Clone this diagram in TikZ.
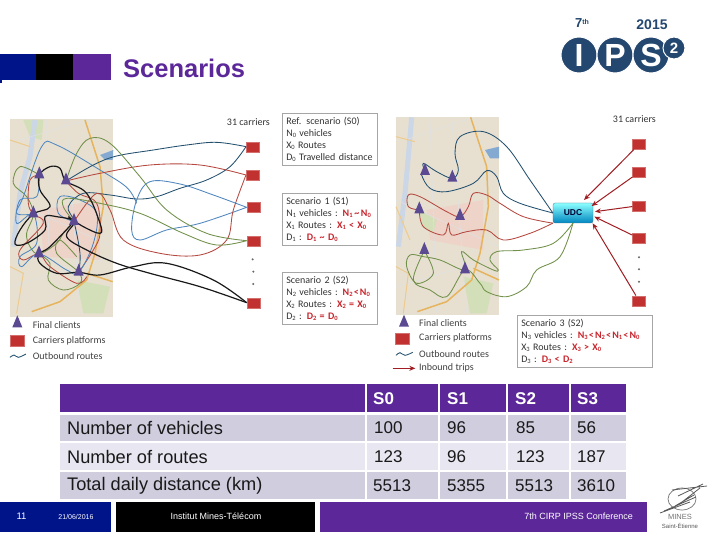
\documentclass[tikz,border=0pt]{standalone}
\usepackage{fontspec}
\setmainfont{Liberation Sans}
\newfontfamily\carl{Carlito}
\usetikzlibrary{shapes.geometric,arrows.meta}
\definecolor{ppl}{HTML}{5C2799}
\definecolor{dblue}{HTML}{00148A}
\definecolor{rowa}{HTML}{CFCDDE}
\definecolor{rowb}{HTML}{E8E7F1}
\definecolor{hdr}{HTML}{5C2799}
\definecolor{navy}{HTML}{23506F}
\definecolor{steel}{HTML}{4F86BE}
\definecolor{rroute}{HTML}{B5483F}
\definecolor{groute}{HTML}{71904A}
\definecolor{carr}{HTML}{C0312F}
\definecolor{tri}{HTML}{5B4A92}
\definecolor{mapbg}{HTML}{E7E0D1}
\definecolor{mappink}{HTML}{EDD3C8}
\definecolor{mapgreen}{HTML}{D3DFB8}
\definecolor{mapwater}{HTML}{CBD6E6}
\definecolor{maproad}{HTML}{E6B45C}
\definecolor{scr}{HTML}{C8252C}
\definecolor{logob}{HTML}{24476F}
\newcommand{\sbs}[1]{\raisebox{-1.4pt}{\fontsize{6.5}{7}\selectfont #1}}
\newcommand{\rd}[1]{\textcolor{scr}{\bfseries #1}}
\newcommand{\ltsp}{\hspace{.12em}<\hspace{.12em}}
\tikzset{
 cell/.style={anchor=west,inner sep=0pt,font=\fontsize{17}{20}\selectfont,text=black!90},
 lcell/.style={anchor=west,inner sep=0pt,font=\fontsize{18.2}{20}\selectfont,text=black!90},
 hcell/.style={anchor=west,inner sep=0pt,font=\fontsize{17}{20}\selectfont\bfseries,text=white},
 foot/.style={inner sep=0pt,text=white},
 carrier/.style={rectangle,fill=carr,minimum width=13pt,minimum height=10pt,inner sep=0pt,draw=carr!70!white,line width=.3pt},
 client/.style={isosceles triangle,shape border rotate=90,isosceles triangle apex angle=46,isosceles triangle stretches,minimum height=12pt,minimum width=10pt,fill=tri,inner sep=0pt},
 scn/.style={anchor=north west,draw=black!35,line width=.6pt,align=left,inner xsep=4pt,inner ysep=2pt,font=\carl\fontsize{10}{12}\selectfont,text=black!80},
 lbl/.style={anchor=west,inner sep=0pt,font=\carl\fontsize{10}{12}\selectfont,text=black!75},
 road/.style={line width=1.5pt,maproad},
 minor/.style={line width=.6pt,white!88!black},
 rt/.style={line width=.85pt,smooth,tension=.6},
 blk/.style={line width=1.2pt,black!90},
 inb/.style={line width=1pt,color=scr!80!black,-{Stealth[length=6pt,width=5pt]}},
 dotm/.style={circle,fill=black!60,minimum size=2.2pt,inner sep=0pt},
 lcirc/.style={circle,fill=logob,draw=white,line width=1pt,minimum size=36pt,inner sep=0pt,text=white,font=\fontsize{32}{32}\selectfont\bfseries},
}
\begin{document}
\begin{tikzpicture}[x=1pt,y=-1pt]
\useasboundingbox (0,0) rectangle (720,540);
\fill[white] (0,0) rectangle (720,540);
% header bars
\fill[dblue] (0,54) rectangle (36,80);
\fill[black] (36,54) rectangle (73,80);
\fill[ppl] (73,54) rectangle (111,80);
\fill[dblue] (0,80) rectangle (2,83);
\node[anchor=base west,inner sep=0pt,text=ppl,font=\fontsize{25.5}{27}\selectfont\bfseries] (title) at (123,78) {Scenarios};
% IPS logo
\node[lcirc] (lI) at (579,55) {I};
\node[lcirc] (lP) at (615,55) {P};
\node[lcirc] (lS) at (651,55) {S};
\node[circle,fill=logob,draw=white,line width=1pt,minimum size=22pt,inner sep=0pt,text=white,font=\fontsize{15}{15}\selectfont\bfseries] (l2) at (674,48) {2};
\node[inner sep=0pt,text=logob,font=\fontsize{13}{13}\selectfont\bfseries] (l7) at (582,23) {7\raisebox{3pt}{\fontsize{7}{7}\selectfont th}};
\node[inner sep=0pt,text=logob,font=\fontsize{14}{14}\selectfont\bfseries] (l15) at (652,25) {2015};
% LEFT PANEL
\begin{scope}[shift={(0,100)},scale=1/3]
\fill[mapbg] (30,57) rectangle (338,650);
\fill[mappink] (120,330) -- (300,300) -- (300,480) -- (130,470) -- cycle;
\fill[mapgreen] (230,540) -- (330,560) -- (310,640) -- (250,640) -- cycle;
\fill[mapgreen] (70,60) -- (130,60) -- (125,120) -- (90,110) -- cycle;
\fill[steel!70!white] (300,165) -- (340,150) -- (338,180) -- (315,180) -- cycle;
\draw[line width=5pt,mapwater] (105,60) -- (90,170) -- (60,280) -- (40,440);
\draw[minor] (30,300) -- (338,440) (60,120) -- (260,60) (140,60) -- (150,640) (30,560) -- (338,470) (200,60) -- (240,640);
\draw[road] (255,60) -- (300,200) -- (310,320) -- (285,460) -- (260,540) -- (180,605) -- (95,635);
\draw[road] (260,520) -- (338,545);
\draw[line width=1pt,maproad!70!white] (30,120) -- (90,140) (30,500) -- (70,520) -- (50,640);
% carriers
\node[carrier] (c1) at (758,140) {};
\node[carrier] (c2) at (758,225) {};
\node[carrier] (c3) at (760,322) {};
\node[carrier] (c4) at (760,422) {};
\node[carrier] (c5) at (760,608) {};
\coordinate (t1) at (118,225);
\coordinate (t2) at (198,243);
\coordinate (t3) at (100,342);
\coordinate (t4) at (222,365);
\coordinate (t5) at (117,462);
\coordinate (t6) at (236,517);
% inner loops
\draw[rt,groute] plot coordinates {(t1) (60,200) (40,250) (80,290) (t3) (80,400) (90,440) (t5) (170,430) (190,400) (t4)};
\draw[rt,groute] plot coordinates {(t5) (150,490) (145,540) (190,570) (240,550) (t6) (170,460) (180,420) (230,470)};
\draw[rt,rroute] plot coordinates {(t1) (90,240) (85,310) (t3) (130,370) (60,450) (70,480) (t5) (150,500) (230,550) (260,530)};
\draw[rt,rroute] plot coordinates {(t2) (235,280) (290,310) (300,400) (280,450) (t6)};
\draw[rt,steel] plot coordinates {(t1) (110,290) (60,300) (50,370) (t3) (110,430) (60,470) (65,500) (t5) (200,510) (t6) (280,430) (290,340) (240,300) (180,290) (175,340) (t4)};
\draw[rt,steel] plot coordinates {(t3) (50,340) (70,290) (125,140) (170,135) (300,210) (380,262) (410,310)};
% routes to carriers
\draw[rt,navy] plot coordinates {(t2) (280,195) (350,168) (460,150) (560,135) (650,127) (c1.west)};
\draw[rt,navy] plot coordinates {(c1.west) (690,200) (620,240) (540,265) (470,290) (410,297) (330,285) (250,280) (205,320) (t4) (240,460) (t6)};
\draw[rt,steel] plot coordinates {(c3.west) (640,285) (540,252) (450,245) (410,300) (395,390) (420,420) (500,390) (600,370) (c3.west)};
\draw[rt,rroute] plot coordinates {(t2) (300,220) (450,195) (600,195) (c2.west)};
\draw[rt,rroute] plot coordinates {(c2.west) (700,330) (680,420) (600,465) (480,460) (370,420) (330,330) (290,280) (t4)};
\draw[rt,groute] plot coordinates {(c4.west) (650,435) (550,400) (420,340) (300,310) (200,295) (190,320) (t4)};
\draw[rt,groute] plot coordinates {(c4.west) (620,400) (500,330) (420,230) (330,130) (270,115) (230,160) (t2)};
\draw[rt,blk] plot coordinates {(c5.west) (600,560) (450,520) (350,490) (260,450) (200,410) (t4) (170,350) (135,350) (135,390) (80,430) (45,432) (60,390) (t3) (150,320) (120,270) (t1) (150,200) (180,205) (t2) (260,280) (300,370) (300,400) (250,380) (205,350)};
\draw[rt,blk] plot coordinates {(c5.west) (640,540) (500,490) (400,500) (300,525) (t6) (170,520) (120,490) (t5) (150,440) (t4)};
% clients
\node[client] (k1) at (t1) {};
\node[client] (k2) at (t2) {};
\node[client] (k3) at (t3) {};
\node[client] (k4) at (t4) {};
\node[client] (k5) at (t5) {};
\node[client] (k6) at (t6) {};
\node[dotm] (d1) at (758,478) {};
\node[dotm] (d2) at (760,515) {};
\node[dotm] (d3) at (760,552) {};
\node[inner sep=0pt,font=\carl\fontsize{10}{11}\selectfont,text=black!80] (n31) at (745,65) {31 carriers};
% legend
\node[client] (lk) at (52,672) {};
\node[carrier,minimum width=14pt,minimum height=11pt] (lc) at (50,722) {};
\draw[rt,navy] plot coordinates {(30,772) (42,765) (55,772) (78,762)};
\node[lbl] (l1) at (98,675) {Final clients};
\node[lbl] (l2b) at (98,722) {Carriers platforms};
\node[lbl] (l3) at (98,768) {Outbound routes};
\end{scope}
% scenario boxes
\node[scn,text width=87pt,minimum height=52pt] (s0) at (282,113) {Ref. scenario (S0)\\N\sbs{0} vehicles\\X\sbs{0} Routes\\D\sbs{0} Travelled distance};
\node[scn,text width=87pt,minimum height=52pt] (s1) at (282,193) {Scenario 1 (S1)\\\mbox{N\sbs{1} vehicles : \rd{N\sbs{1}\,\textasciitilde\,N\sbs{0}}}\\X\sbs{1} Routes : \rd{X\sbs{1} < X\sbs{0}}\\D\sbs{1} : \rd{D\sbs{1} \textasciitilde{} D\sbs{0}}};
\node[scn,text width=87pt,minimum height=52pt] (s2) at (282,272) {Scenario 2 (S2)\\\mbox{N\sbs{2} vehicles : \rd{N\sbs{2}\ltsp N\sbs{0}}}\\X\sbs{2} Routes : \rd{X\sbs{2} = X\sbs{0}}\\D\sbs{2} : \rd{D\sbs{2} = D\sbs{0}}};
% RIGHT PANEL
\begin{scope}[shift={(380,100)},scale=1/3]
\fill[mapbg] (48,52) rectangle (357,644);
\fill[mappink] (140,330) -- (310,300) -- (310,450) -- (150,420) -- cycle;
\fill[mapgreen] (250,530) -- (340,550) -- (320,640) -- (270,640) -- cycle;
\fill[mapgreen] (120,330) -- (170,360) -- (160,400) -- (125,380) -- cycle;
\fill[steel!70!white] (315,150) -- (357,140) -- (357,175) -- (330,175) -- cycle;
\draw[line width=5pt,mapwater] (95,52) -- (85,170) -- (75,280) -- (55,440);
\draw[minor] (48,300) -- (357,440) (75,120) -- (280,52) (150,52) -- (170,640) (48,560) -- (357,470) (215,52) -- (260,640);
\draw[road] (272,52) -- (320,200) -- (325,320) -- (300,460) -- (275,540) -- (200,605) -- (112,635);
\draw[road] (280,505) -- (357,540);
\draw[line width=1pt,maproad!70!white] (48,110) -- (105,125) (48,320) -- (90,420) (48,500) -- (85,520) -- (70,640);
\node[carrier] (r1) at (777,133) {};
\node[carrier] (r2) at (777,217) {};
\node[carrier] (r3) at (777,317) {};
\node[carrier] (r4) at (777,415) {};
\node[carrier] (r5) at (777,602) {};
\node[rectangle,rounded corners=2pt,draw=cyan!50!black,line width=.3pt,top color=cyan!45!white,bottom color=cyan!70!blue!75!black,minimum width=40pt,minimum height=20pt,inner sep=0pt,text=black!80!blue,font=\fontsize{8.5}{9}\selectfont\bfseries] (udc) at (579,339) {UDC};
\coordinate (u1) at (135,215);
\coordinate (u2) at (217,235);
\coordinate (u3) at (118,330);
\coordinate (u4) at (240,350);
\coordinate (u5) at (133,452);
\coordinate (u6) at (255,510);
\draw[rt,navy] plot coordinates {(udc.west) (450,240) (380,140) (310,95) (240,110) (225,160) (235,210) (u2) (170,215) (130,190) (u1)};
\draw[rt,navy] plot coordinates {(udc.west) (420,310) (370,280) (350,230) (320,212) (280,250) (200,275) (150,265) (125,225) (u1)};
\draw[rt,rroute] plot coordinates {(udc.south west) (430,350) (360,310) (320,285) (280,280) (265,320) (u4) (200,335) (120,290) (85,285) (85,320) (u3)};
\draw[rt,rroute] plot coordinates {(udc.south west) (450,400) (370,420) (320,390) (260,395) (215,405) (205,370) (190,405) (130,380) (u3)};
\draw[rt,groute] plot coordinates {(udc.south) (520,430) (430,450) (350,455) (330,480) (355,510) (340,510) (280,480) (245,455) (u6) (180,480) (130,470) (90,465) (80,500) (110,550) (160,520) (u5)};
\draw[rt,groute] plot coordinates {(udc.south) (540,470) (470,510) (440,560) (380,590) (320,575) (300,550) (u6) (200,590) (150,570) (100,540) (u5)};
\node[client] (q1) at (u1) {};
\node[client] (q2) at (u2) {};
\node[client] (q3) at (u3) {};
\node[client] (q4) at (u4) {};
\node[client] (q5) at (u5) {};
\node[client] (q6) at (u6) {};
\coordinate (a1) at (612,300);
\coordinate (a2) at (635,318);
\coordinate (a3) at (645,335);
\coordinate (a4) at (643,350);
\coordinate (a5) at (638,370);
\draw[inb] (r1) -- (a1);
\draw[inb] (r2) -- (a2);
\draw[inb] (r3) -- (a3);
\draw[inb] (r4) -- (a4);
\draw[inb] (r5) -- (a5);
\node[dotm] (e1) at (777,472) {};
\node[dotm] (e2) at (777,508) {};
\node[dotm] (e3) at (777,545) {};
\node[inner sep=0pt,font=\carl\fontsize{10}{11}\selectfont,text=black!80] (m31) at (763,58) {31 carriers};
\node[client] (llk) at (72,670) {};
\node[carrier,minimum width=14pt,minimum height=11pt] (llc) at (67,716) {};
\draw[rt,navy] plot coordinates {(48,766) (60,758) (75,766) (98,757)};
\coordinate (ia) at (38,805);
\coordinate (ib) at (106,805);
\draw[inb] (ia) -- (ib);
\node[lbl] (b1) at (117,668) {Final clients};
\node[lbl] (b2) at (117,715) {Carriers platforms};
\node[lbl] (b3) at (117,762) {Outbound routes};
\node[lbl] (b4) at (117,805) {Inbound trips};
\end{scope}
\node[scn,text width=127pt,minimum height=52pt] (s3) at (517,315) {Scenario 3 (S2)\\\mbox{N\sbs{3} vehicles : \rd{N\sbs{3}\ltsp N\sbs{2}\ltsp N\sbs{1}\ltsp N\sbs{0}}}\\X\sbs{3} Routes : \rd{X\sbs{3} > X\sbs{0}}\\D\sbs{3} : \rd{D\sbs{3} < D\sbs{2}}};
% TABLE
\fill[hdr] (60,384) rectangle (365,411.5);
\fill[hdr] (366.5,384) rectangle (438,411.5);
\fill[hdr] (440,384) rectangle (506,411.5);
\fill[hdr] (508,384) rectangle (569,411.5);
\fill[hdr] (571,384) rectangle (626,411.5);
\foreach \ya/\yb/\col in {415/441/rowa,443/470/rowb,472/499/rowa}{
 \fill[\col] (60,\ya) rectangle (365,\yb);
 \fill[\col] (366.5,\ya) rectangle (438,\yb);
 \fill[\col] (440,\ya) rectangle (506,\yb);
 \fill[\col] (508,\ya) rectangle (569,\yb);
 \fill[\col] (571,\ya) rectangle (626,\yb);
}
\node[hcell] (h0) at (373,399) {S0};
\node[hcell] (h1) at (447,399) {S1};
\node[hcell] (h2) at (515,399) {S2};
\node[hcell] (h3) at (577,399) {S3};
\node[lcell] (a0) at (67,428) {Number of vehicles};
\node[cell] (a10) at (374,428) {100};
\node[cell] (a11) at (447,428) {96};
\node[cell] (a12) at (516,428) {85};
\node[cell] (a13) at (577,428) {56};
\node[lcell] (b0) at (67,457) {Number of routes};
\node[cell] (b10) at (374,457) {123};
\node[cell] (b11) at (447,457) {96};
\node[cell] (b12) at (516,457) {123};
\node[cell] (b13) at (577,457) {187};
\node[lcell] (z0) at (67,486) {Total daily distance (km)};
\node[cell] (z10) at (373,486) {5513};
\node[cell] (z11) at (447,486) {5355};
\node[cell] (z12) at (515,486) {5513};
\node[cell] (z13) at (577,486) {3610};
% FOOTER
\fill[dblue] (0,502) rectangle (111,531.5);
\fill[black] (116,502) rectangle (315,531.5);
\fill[ppl] (320,502) rectangle (647,531.5);
\node[foot,font=\fontsize{9.5}{11}\selectfont] (f1) at (21.5,516) {11};
\node[foot,font=\fontsize{7}{9}\selectfont] (f2) at (76,516.5) {21/06/2016};
\node[foot,font=\fontsize{9}{11}\selectfont] (f3) at (216,516.5) {Institut Mines-Télécom};
\node[foot,anchor=east,font=\fontsize{9}{11}\selectfont] (f4) at (633,516.5) {7th CIRP IPSS Conference};
% Mines logo
\draw[black!55,line width=.7pt] (682,499) ellipse (14pt and 11pt);
\draw[black!65,line width=.8pt] (660,513) -- (690,502) (664,511) -- (696,497) (672,490) -- (707,486) (678,496) -- (703,484) (682,502) -- (700,488) (675,506) -- (694,495);
\node[inner sep=0pt,text=black!55,font=\fontsize{7.5}{9}\selectfont] (m1) at (680,517) {MINES};
\node[inner sep=0pt,text=black!65,font=\fontsize{6}{8}\selectfont] (m2) at (680,525.5) {Saint-Étienne};
\end{tikzpicture}
\end{document}
